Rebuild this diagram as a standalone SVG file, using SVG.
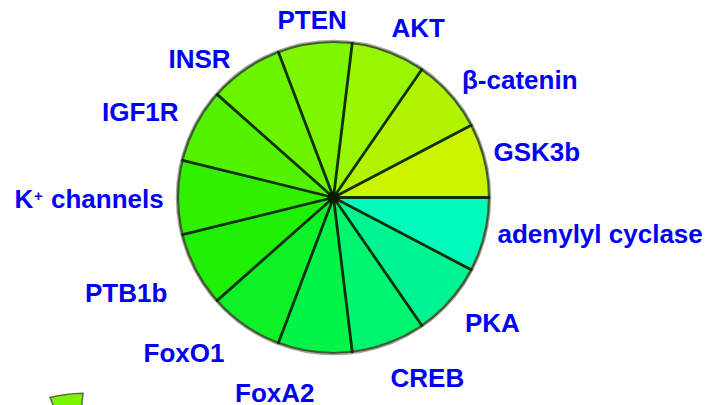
<svg xmlns="http://www.w3.org/2000/svg" width="712" height="405" viewBox="0 0 712 405">
  <style>
    .lbl { font-family: "Liberation Sans", Arial, sans-serif; font-weight: bold; font-size: 26px; fill: #0000f5; }
    .sup { font-size: 15px; }
    .spoke { stroke: #10300a; stroke-width: 2.8; stroke-linecap: round; }
    .rim { fill: none; stroke: #3e5a2e; stroke-width: 2.2; }
    .halo { fill: none; stroke: #a8a8a0; stroke-width: 1.5; }
  </style>

  <rect width="712" height="405" fill="#ffffff"/>

  <!-- pie: 13 equal slices, centre (333.5,197.5), r 155.5, counter-clockwise from 3 o'clock -->
  <g id="pie">
    <circle class="halo" cx="333.5" cy="197.5" r="157"/>
    <g id="slice-gsk3b"><path d="M333.5 197.5 L489 197.5 A155.5 155.5 0 0 0 471.19 125.24 Z" fill="#ccf400"/></g>
    <g id="slice-bcatenin"><path d="M333.5 197.5 L471.19 125.24 A155.5 155.5 0 0 0 421.83 69.53 Z" fill="#b2f300"/></g>
    <g id="slice-akt"><path d="M333.5 197.5 L421.83 69.53 A155.5 155.5 0 0 0 352.24 43.13 Z" fill="#98f600"/></g>
    <g id="slice-pten"><path d="M333.5 197.5 L352.24 43.13 A155.5 155.5 0 0 0 278.36 52.1 Z" fill="#7df800"/></g>
    <g id="slice-insr"><path d="M333.5 197.5 L278.36 52.1 A155.5 155.5 0 0 0 217.11 94.38 Z" fill="#6af400"/></g>
    <g id="slice-igf1r"><path d="M333.5 197.5 L217.11 94.38 A155.5 155.5 0 0 0 182.52 160.29 Z" fill="#52f200"/></g>
    <g id="slice-kchannels"><path d="M333.5 197.5 L182.52 160.29 A155.5 155.5 0 0 0 182.52 234.71 Z" fill="#30f000"/></g>
    <g id="slice-ptb1b"><path d="M333.5 197.5 L182.52 234.71 A155.5 155.5 0 0 0 217.11 300.62 Z" fill="#1ef006"/></g>
    <g id="slice-foxo1"><path d="M333.5 197.5 L217.11 300.62 A155.5 155.5 0 0 0 278.36 342.9 Z" fill="#0cf226"/></g>
    <g id="slice-foxa2"><path d="M333.5 197.5 L278.36 342.9 A155.5 155.5 0 0 0 352.24 351.87 Z" fill="#00f548"/></g>
    <g id="slice-creb"><path d="M333.5 197.5 L352.24 351.87 A155.5 155.5 0 0 0 421.83 325.47 Z" fill="#00f56e"/></g>
    <g id="slice-pka"><path d="M333.5 197.5 L421.83 325.47 A155.5 155.5 0 0 0 471.19 269.76 Z" fill="#00f592"/></g>
    <g id="slice-adenylyl"><path d="M333.5 197.5 L471.19 269.76 A155.5 155.5 0 0 0 489 197.5 Z" fill="#00fbbb"/></g>
    <circle class="rim" cx="333.5" cy="197.5" r="155.5"/>
  </g>

  <!-- slice boundaries -->
  <g id="connectors">
    <line class="spoke" x1="333.5" y1="197.5" x2="489" y2="197.5" stroke="#2a4410"/>
    <line class="spoke" x1="333.5" y1="197.5" x2="471.19" y2="125.24"/>
    <line class="spoke" x1="333.5" y1="197.5" x2="421.83" y2="69.53"/>
    <line class="spoke" x1="333.5" y1="197.5" x2="352.24" y2="43.13"/>
    <line class="spoke" x1="333.5" y1="197.5" x2="278.36" y2="52.1"/>
    <line class="spoke" x1="333.5" y1="197.5" x2="217.11" y2="94.38"/>
    <line class="spoke" x1="333.5" y1="197.5" x2="182.52" y2="160.29"/>
    <line class="spoke" x1="333.5" y1="197.5" x2="182.52" y2="234.71"/>
    <line class="spoke" x1="333.5" y1="197.5" x2="217.11" y2="300.62"/>
    <line class="spoke" x1="333.5" y1="197.5" x2="278.36" y2="342.9"/>
    <line class="spoke" x1="333.5" y1="197.5" x2="352.24" y2="351.87"/>
    <line class="spoke" x1="333.5" y1="197.5" x2="421.83" y2="325.47"/>
    <line class="spoke" x1="333.5" y1="197.5" x2="471.19" y2="269.76"/>
    <circle cx="333.5" cy="197.5" r="6" fill="#0a1a06"/>
  </g>

  <!-- partial slice of a second pie at the lower edge -->
  <g id="pie2-fragment">
    <path d="M50 397.5 Q66 393.6 83 393.3 L81.7 406 L53.5 406 Z" fill="#7cf400" stroke="#5a6a50" stroke-width="1.5"/>
  </g>

  <g id="labels">
    <text class="lbl" x="277.5" y="29">PTEN</text>
    <text class="lbl" x="391.5" y="37">AKT</text>
    <text class="lbl" x="462" y="89">β-catenin</text>
    <text class="lbl" x="493.5" y="160.5">GSK3b</text>
    <text class="lbl" x="497.5" y="243">adenylyl cyclase</text>
    <text class="lbl" x="465" y="332">PKA</text>
    <text class="lbl" x="390.5" y="387">CREB</text>
    <text class="lbl" x="235" y="401.5">FoxA2</text>
    <text class="lbl" x="143.5" y="362">FoxO1</text>
    <text class="lbl" x="85" y="301.5">PTB1b</text>
    <text class="lbl" x="14.5" y="207.5">K<tspan class="sup" x="34" y="201">+</tspan><tspan x="51" y="207.5">channels</tspan></text>
    <text class="lbl" x="102" y="120.5">IGF1R</text>
    <text class="lbl" x="168.5" y="67.5">INSR</text>
  </g>
</svg>
